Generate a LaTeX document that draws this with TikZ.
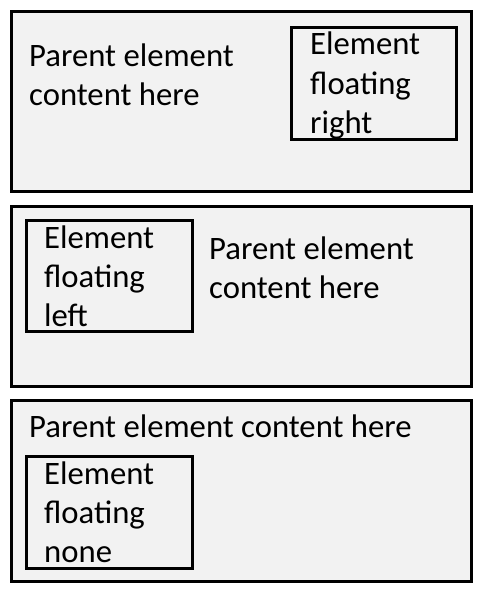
\documentclass[tikz,border=0pt]{standalone}
\usepackage{fontspec}
\setmainfont{Carlito}
\usetikzlibrary{positioning}
\definecolor{panelgray}{HTML}{F2F2F2}
\tikzset{
     panel/.style={draw=black, fill=panelgray, line width=3pt},
     floatbox/.style={draw=black, line width=3pt},
     txt/.style={inner sep=0pt, anchor=base west, align=left,
       font=\fontsize{32.7}{39}\selectfont},
}

\begin{document}
\begin{tikzpicture}[x=1pt,y=-1pt]
		\useasboundingbox (0,0) rectangle (485,591);

		% float: right (text nodes sit on the baseline of their last line)
		\draw[panel] (11,11.7) rectangle (471.7,191.7);
		\draw[floatbox] (291.7,27.5) rectangle (456.7,139.5);
		\node[txt] (parentright) at (29,106) {Parent element\\content here};
		\node[txt] (floatright) at (310,133) {Element\\floating\\right};

		% float: left
		\draw[panel] (11,206.7) rectangle (471.7,386.7);
		\draw[floatbox] (26.3,220.3) rectangle (192,331.3);
		\node[txt] (floatleft) at (44,326) {Element\\floating\\left};
		\node[txt] (parentleft) at (209,298) {Parent element\\content here};

		% float: none
		\draw[panel] (11,400.7) rectangle (471.7,581);
		\draw[floatbox] (26.3,456.7) rectangle (192,568.3);
		\node[txt] (parentnone) at (29,437) {Parent element content here};
		\node[txt] (floatnone) at (44,562) {Element\\floating\\none};
\end{tikzpicture}
\end{document}
